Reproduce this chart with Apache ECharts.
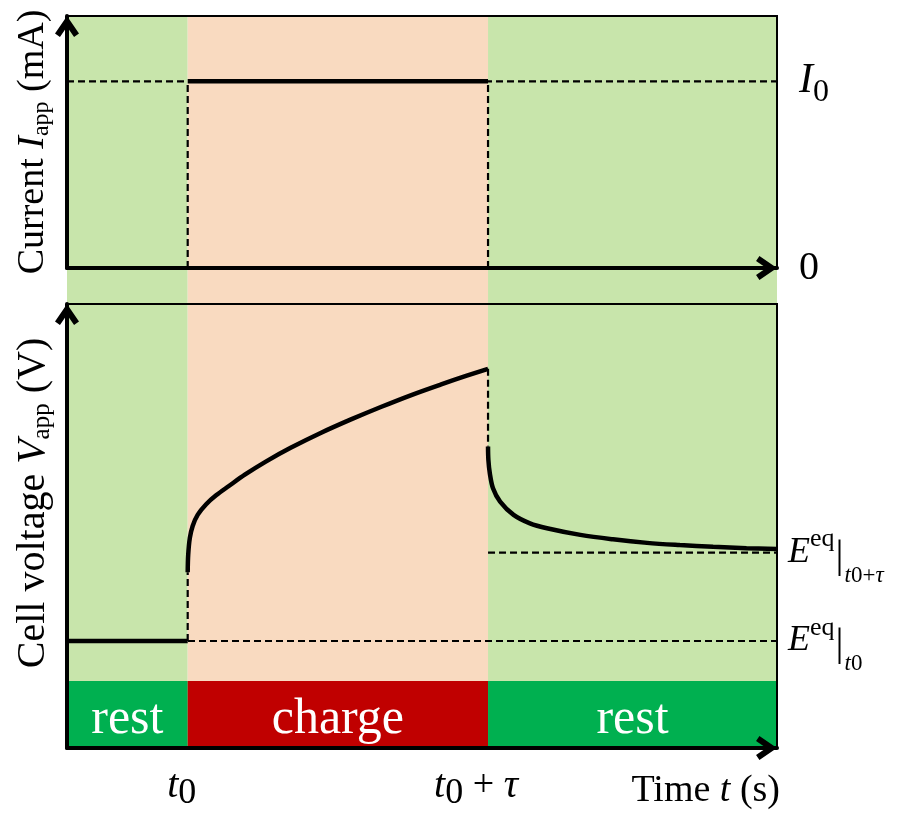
<!DOCTYPE html>
<html>
<head>
<meta charset="utf-8">
<script src="https://cdn.jsdelivr.net/npm/echarts@6/dist/echarts.min.js"></script>
<style>
  html, body { margin: 0; padding: 0; background: #fff; }
  #chart { width: 897px; height: 814px; }
</style>
</head>
<body>
<div id="chart"></div>
<script>
// ---- time axis (arbitrary units) ----
const T_MAX = 100;
const T0 = 17.0;          // start of the charge step
const TAU = 42.3;         // charge duration
const T1 = T0 + TAU;      // end of the charge step

// ---- current panel ----
const I_MAX = 1.35;
const I0 = 1.0;

// ---- voltage panel ----
const V_MAX = 100;
const E_T0 = 24.1;        // equilibrium potential before charging
const E_T1 = 44.0;        // equilibrium potential after relaxation
const PHASE_BAND = 15.1;  // height of the rest / charge strip

// voltage during the constant-current charge
const chargeTime = [17.0, 17.07, 17.3, 17.7, 18.4, 19.6, 21.0, 22.8, 25.1, 28.0, 31.5, 35.8, 40.0, 44.2, 48.5, 52.7, 56.2, 59.3];
const chargeVolt = [39.6, 43.5, 47.3, 50.0, 52.5, 54.9, 56.9, 59.0, 61.6, 64.5, 67.6, 71.0, 74.0, 76.8, 79.5, 81.9, 83.8, 85.4];

// voltage relaxation after the current is switched off
const relaxTime = [59.3, 59.35, 59.55, 60.0, 61.0, 62.9, 65.2, 67.6, 72.3, 76.9, 81.7, 86.3, 91.0, 95.7, 100];
const relaxVolt = [67.9, 64.9, 61.9, 58.5, 55.5, 52.5, 50.6, 49.5, 48.0, 47.0, 46.2, 45.7, 45.3, 45.0, 44.8];

// phases along the time axis
const phaseNames = ['rest', 'charge', 'rest'];
const phaseEdges = [0, T0, T1, T_MAX];
const phaseLight = ['#c8e5ab', '#f9dac0', '#c8e5ab'];
const phaseDark = ['#00b050', '#c00000', '#00b050'];

const SERIF = '"Liberation Serif", "Times New Roman", Times, serif';
const CHEVRON = 'path://M12,0L24,17.5L19.05,20.9L12,10.6L4.95,20.9L0,17.5Z';
const DASH = [7, 4];

const zip = (xs, ys) => xs.map((x, i) => [x, ys[i]]);

const mathRich = {
  n:   { fontFamily: SERIF, fontSize: 38, color: '#000' },
  i:   { fontFamily: SERIF, fontSize: 38, fontStyle: 'italic', color: '#000' },
  s:   { fontFamily: SERIF, fontSize: 24, color: '#000', padding: [18, 0, 0, 0] },
  vn:  { fontFamily: SERIF, fontSize: 40, color: '#000' },
  vi:  { fontFamily: SERIF, fontSize: 40, fontStyle: 'italic', color: '#000' },
  vs:  { fontFamily: SERIF, fontSize: 25, color: '#000', padding: [19, 0, 0, 0] },
  I:   { fontFamily: SERIF, fontSize: 42, fontStyle: 'italic', color: '#000' },
  z:   { fontFamily: SERIF, fontSize: 32, color: '#000', padding: [22, 0, 0, 0] },
  zero:{ fontFamily: SERIF, fontSize: 40, color: '#000' },
  E:   { fontFamily: SERIF, fontSize: 36, fontStyle: 'italic', color: '#000' },
  sup: { fontFamily: SERIF, fontSize: 26, color: '#000', padding: [0, 0, 26, 0] },
  bar: { fontFamily: SERIF, fontSize: 40, color: '#000', padding: [8, 1, 0, 1] },
  ti:  { fontFamily: SERIF, fontSize: 23, fontStyle: 'italic', color: '#000', padding: [46, 0, 0, 0] },
  tn:  { fontFamily: SERIF, fontSize: 23, color: '#000', padding: [46, 0, 0, 0] },
  xt:  { fontFamily: SERIF, fontSize: 40, fontStyle: 'italic', color: '#000' },
  x0:  { fontFamily: SERIF, fontSize: 36, color: '#000', padding: [16, 0, 0, 0] },
  xp:  { fontFamily: SERIF, fontSize: 38, color: '#000' },
  padA:{ fontSize: 10, width: 12 },
  padB:{ fontSize: 10, width: 24 },
  band:{ fontFamily: SERIF, fontSize: 50, color: '#fff', padding: [10, 0, 0, 0] }
};

function dashed(xi, yi, pts) {
  return {
    type: 'line', xAxisIndex: xi, yAxisIndex: yi, data: pts,
    showSymbol: false, silent: true, z: 3,
    lineStyle: { color: '#000', width: 2.2, type: DASH }
  };
}
function solid(xi, yi, pts, smooth) {
  return {
    type: 'line', xAxisIndex: xi, yAxisIndex: yi, data: pts,
    showSymbol: false, silent: true, z: 4,
    smooth: smooth ? 0.35 : false,
    lineStyle: { color: '#000', width: 4.5 }
  };
}

const arrowLine = {
  show: true,
  onZero: false,
  symbol: ['none', CHEVRON],
  symbolSize: [24, 21],
  symbolOffset: [0, -10.5],
  lineStyle: { color: '#000', width: 4 }
};

const chart = echarts.init(document.getElementById('chart'), null, { renderer: 'canvas' });

chart.setOption({
  animation: false,
  backgroundColor: '#fff',
  grid: [
    { left: 67, right: 120, top: 16, bottom: 66, show: false, outerBoundsMode: 'none' },
    { left: 67, right: 120, top: 16, bottom: 546, show: true, z: 5, borderColor: '#000', borderWidth: 2, backgroundColor: 'transparent', outerBoundsMode: 'none' },
    { left: 67, right: 120, top: 304, bottom: 66, show: true, z: 5, borderColor: '#000', borderWidth: 2, backgroundColor: 'transparent', outerBoundsMode: 'none' }
  ],
  xAxis: [
    { gridIndex: 0, type: 'value', min: 0, max: T_MAX, show: false },
    { gridIndex: 1, type: 'value', min: 0, max: T_MAX, z: 10,
      axisLine: arrowLine, axisTick: { show: false }, axisLabel: { show: false }, splitLine: { show: false } },
    { gridIndex: 2, type: 'value', min: 0, max: T_MAX, z: 10,
      axisLine: arrowLine, axisTick: { show: false }, splitLine: { show: false },
      axisLabel: {
        show: true, margin: 12, customValues: [T0, T1],
        formatter: v => Math.abs(v - T0) < 1e-6 ? '{xt|t}{x0|0}{padA| }' : '{xt|t}{x0|0}{xp| + }{xt|τ}{padB| }',
        rich: mathRich
      },
      name: '{n|Time }{i|t}{n| (s)}',
      nameLocation: 'end', nameGap: 3, nameMoveOverlap: false,
      nameTextStyle: { align: 'right', verticalAlign: 'top', padding: [24, 0, 0, 0], rich: mathRich }
    }
  ],
  yAxis: [
    { gridIndex: 0, type: 'value', min: 0, max: 1, show: false },
    { gridIndex: 1, type: 'value', min: 0, max: I_MAX, position: 'left', z: 10,
      axisLine: arrowLine, axisTick: { show: false }, axisLabel: { show: false }, splitLine: { show: false },
      name: '{n|Current }{i|I}{s|app}{n| (mA)}',
      nameLocation: 'middle', nameRotate: 90, nameGap: 13, nameMoveOverlap: false,
      nameTextStyle: { rich: mathRich } },
    { gridIndex: 1, type: 'value', min: 0, max: I_MAX, position: 'right',
      axisLine: { show: false }, axisTick: { show: false }, splitLine: { show: false },
      axisLabel: {
        show: true, margin: 22, customValues: [0, I0],
        formatter: v => v === 0 ? '{zero|0}' : '{I|I}{z|0}',
        rich: mathRich
      } },
    { gridIndex: 2, type: 'value', min: 0, max: V_MAX, position: 'left', z: 10,
      axisLine: arrowLine, axisTick: { show: false }, axisLabel: { show: false }, splitLine: { show: false },
      name: '{vn|Cell voltage }{vi|V}{vs|app}{vn| (V)}',
      nameLocation: 'middle', nameRotate: 90, nameGap: 12, nameMoveOverlap: false,
      nameTextStyle: { rich: mathRich, padding: [0, 0, 0, 46] } },
    { gridIndex: 2, type: 'value', min: 0, max: V_MAX, position: 'right',
      axisLine: { show: false }, axisTick: { show: false }, splitLine: { show: false },
      axisLabel: {
        show: true, margin: 11, customValues: [E_T0, E_T1],
        formatter: v => Math.abs(v - E_T0) < 1e-6
          ? '{E|E}{sup|eq}{bar||}{ti|t}{tn|0}'
          : '{E|E}{sup|eq}{bar||}{ti|t}{tn|0+}{ti|τ}',
        rich: mathRich
      } }
  ],
  series: [
    // coloured phase columns behind both panels
    {
      type: 'line', xAxisIndex: 0, yAxisIndex: 0, data: [[0, 0]], symbol: 'none', silent: true, z: -10,
      lineStyle: { opacity: 0 },
      markArea: {
        silent: true, z: -10,
        data: phaseNames.map((n, k) => [
          { xAxis: phaseEdges[k], itemStyle: { color: phaseLight[k] } },
          { xAxis: phaseEdges[k + 1] }
        ])
      }
    },
    // rest / charge strip
    {
      type: 'line', xAxisIndex: 2, yAxisIndex: 3, data: [[0, 0]], symbol: 'none', silent: true, z: 1,
      lineStyle: { opacity: 0 },
      markArea: {
        silent: true, z: 1,
        label: { show: true, position: 'inside', formatter: '{band|{b}}', rich: mathRich },
        data: phaseNames.map((n, k) => [
          { name: n, xAxis: phaseEdges[k], yAxis: 0, itemStyle: { color: phaseDark[k] } },
          { xAxis: phaseEdges[k + 1], yAxis: PHASE_BAND }
        ])
      }
    },
    // applied current
    dashed(1, 1, [[0, I0], [T_MAX, I0]]),
    dashed(1, 1, [[T0, 0], [T0, I0]]),
    dashed(1, 1, [[T1, 0], [T1, I0]]),
    solid(1, 1, [[T0, I0], [T1, I0]], false),
    // cell voltage
    dashed(2, 3, [[0, E_T0], [T_MAX, E_T0]]),
    dashed(2, 3, [[T0, E_T0], [T0, chargeVolt[0]]]),
    dashed(2, 3, [[T1, chargeVolt[chargeVolt.length - 1]], [T1, relaxVolt[0]]]),
    dashed(2, 3, [[T1, E_T1], [T_MAX, E_T1]]),
    solid(2, 3, [[0, E_T0], [T0, E_T0]], false),
    solid(2, 3, zip(chargeTime, chargeVolt), true),
    solid(2, 3, zip(relaxTime, relaxVolt), true)
  ]
});
</script>
</body>
</html>
